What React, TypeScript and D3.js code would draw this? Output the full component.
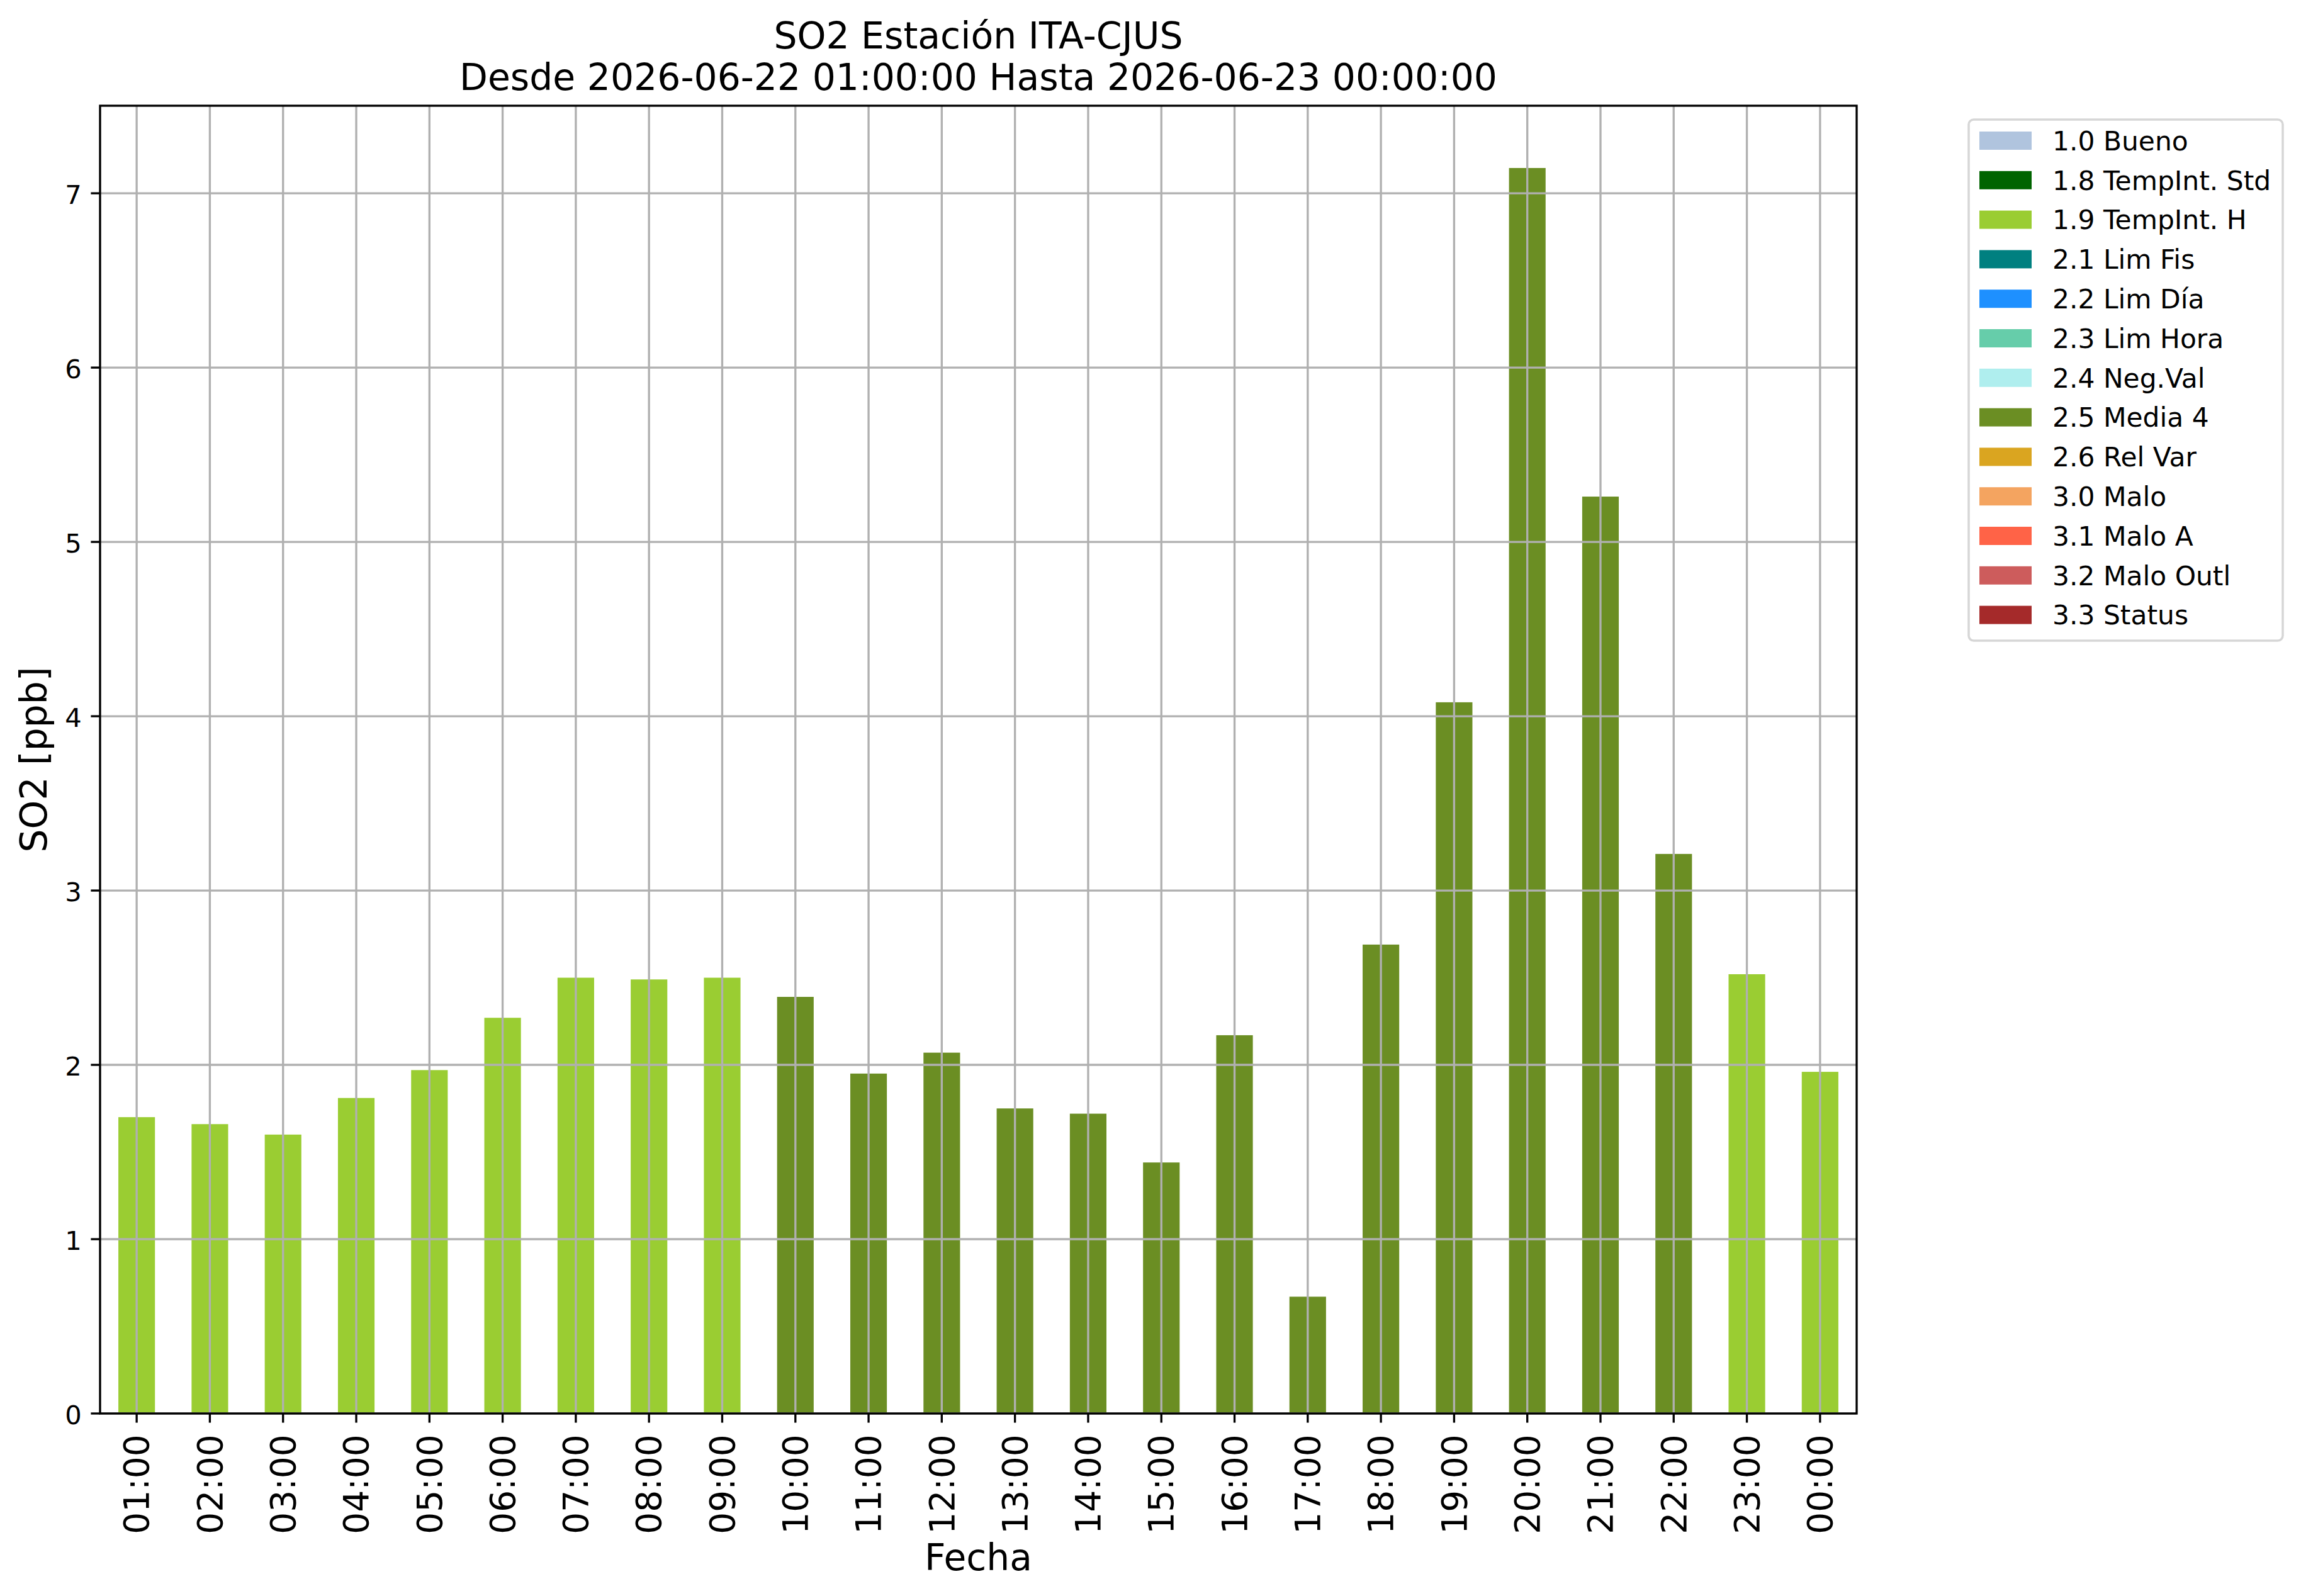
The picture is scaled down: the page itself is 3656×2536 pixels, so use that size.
import React, { useEffect } from "react";
import * as d3 from "d3";

// ---- Data ----
const hours = [
  "01:00", "02:00", "03:00", "04:00", "05:00", "06:00", "07:00", "08:00",
  "09:00", "10:00", "11:00", "12:00", "13:00", "14:00", "15:00", "16:00",
  "17:00", "18:00", "19:00", "20:00", "21:00", "22:00", "23:00", "00:00",
];
const so2Values = [
  1.70, 1.66, 1.60, 1.81, 1.97, 2.27, 2.50, 2.49,
  2.50, 2.39, 1.95, 2.07, 1.75, 1.72, 1.44, 2.17,
  0.67, 2.69, 4.08, 7.145, 5.26, 3.21, 2.52, 1.96,
];
const flagCodes = [
  "1.9", "1.9", "1.9", "1.9", "1.9", "1.9", "1.9", "1.9",
  "1.9", "2.5", "2.5", "2.5", "2.5", "2.5", "2.5", "2.5",
  "2.5", "2.5", "2.5", "2.5", "2.5", "2.5", "1.9", "1.9",
];
const legendCodes = ["1.0", "1.8", "1.9", "2.1", "2.2", "2.3", "2.4", "2.5", "2.6", "3.0", "3.1", "3.2", "3.3"];
const legendLabels = [
  "1.0 Bueno", "1.8 TempInt. Std", "1.9 TempInt. H", "2.1 Lim Fis", "2.2 Lim Día",
  "2.3 Lim Hora", "2.4 Neg.Val", "2.5 Media 4", "2.6 Rel Var", "3.0 Malo",
  "3.1 Malo A", "3.2 Malo Outl", "3.3 Status",
];
const legendColors = [
  "#B0C4DE", "#006400", "#9ACD32", "#008080", "#1E90FF", "#66CDAA", "#AFEEEE",
  "#6B8E23", "#DAA520", "#F4A460", "#FF6347", "#CD5C5C", "#A52A2A",
];
const yTicks = [0, 1, 2, 3, 4, 5, 6, 7];
const titleLines = ["SO2 Estación ITA-CJUS", "Desde 2026-06-22 01:00:00 Hasta 2026-06-23 00:00:00"];
const xLabel = "Fecha";
const yLabel = "SO2 [ppb]";

// ---- Layout ----
const W = 3656;
const H = 2536;
const L = 159;
const R = 2950;
const T = 168;
const B = 2246;
const FONT = "'DejaVu Sans', sans-serif";
const LW = 3.33;
const TICK = 14.6;
const PAD = 14.6;

export default function App() {
  useEffect(() => {
    document.body.style.margin = "0";
  }, []);

  const x = d3.scaleLinear().domain([-0.5, hours.length - 0.5]).range([L, R]);
  const yMax = (d3.max(so2Values) as number) * 1.05;
  const y = d3.scaleLinear().domain([0, yMax]).range([B, T]);
  const color = d3.scaleOrdinal<string, string>().domain(legendCodes).range(legendColors);
  const barW = x(0.25) - x(-0.25);

  const legX = 3128;
  const legY = 190;
  const legW = 499;
  const legH = 828;
  const rowStep = 62.8;
  const firstRow = 223.5;

  return (
    <svg
      width={W}
      height={H}
      viewBox={`0 0 ${W} ${H}`}
      style={{ position: "absolute", left: 0, top: 0, display: "block", background: "#fff" }}
      fontFamily={FONT}
    >
      <rect x={0} y={0} width={W} height={H} fill="#fff" />
      {/* bars */}
      <g>
        {so2Values.map((v, i) => (
          <rect
            key={i}
            x={x(i) - barW / 2}
            y={y(v)}
            width={barW}
            height={y(0) - y(v)}
            fill={color(flagCodes[i])}
          />
        ))}
      </g>
      {/* grid */}
      <g stroke="#b0b0b0" strokeWidth={LW}>
        {hours.map((h, i) => (
          <line key={h} x1={x(i)} x2={x(i)} y1={T} y2={B} />
        ))}
        {yTicks.map((t) => (
          <line key={t} x1={L} x2={R} y1={y(t)} y2={y(t)} />
        ))}
      </g>
      {/* spines */}
      <rect x={L} y={T} width={R - L} height={B - T} fill="none" stroke="#000" strokeWidth={LW} />
      {/* y ticks */}
      <g>
        {yTicks.map((t) => (
          <g key={t}>
            <line x1={L - TICK} x2={L} y1={y(t)} y2={y(t)} stroke="#000" strokeWidth={LW} />
            <text x={L - TICK - PAD} y={y(t)} dy="0.4em" textAnchor="end" fontSize={41.7} fill="#000">
              {t}
            </text>
          </g>
        ))}
      </g>
      {/* x ticks */}
      <g>
        {hours.map((h, i) => (
          <g key={h}>
            <line x1={x(i)} x2={x(i)} y1={B} y2={B + TICK} stroke="#000" strokeWidth={LW} />
            <text
              transform={`translate(${x(i)},${B + TICK + PAD + 4}) rotate(-90)`}
              dy="0.35em"
              textAnchor="end"
              fontSize={55}
              fill="#000"
            >
              {h}
            </text>
          </g>
        ))}
      </g>
      {/* axis labels */}
      <text x={(L + R) / 2} y={2495} textAnchor="middle" fontSize={58.3} fill="#000">
        {xLabel}
      </text>
      <text transform={`translate(74,${(T + B) / 2}) rotate(-90)`} textAnchor="middle" fontSize={58.3} fill="#000">
        {yLabel}
      </text>
      {/* title */}
      {titleLines.map((t, i) => (
        <text key={i} x={(L + R) / 2} y={77 + i * 66} textAnchor="middle" fontSize={58.4} fill="#000">
          {t}
        </text>
      ))}
      {/* legend */}
      <rect x={legX} y={legY} width={legW} height={legH} rx={8} ry={8} fill="#fff" fillOpacity={0.8} stroke="#d6d6d6" strokeWidth={3.5} />
      {legendLabels.map((lab, i) => {
        const cy = firstRow + i * rowStep;
        return (
          <g key={lab}>
            <rect x={3145} y={cy - 14.5} width={83} height={29} fill={legendColors[i]} />
            <text x={3261} y={cy} dy="0.36em" fontSize={42.4} fill="#000">
              {lab}
            </text>
          </g>
        );
      })}
    </svg>
  );
}
